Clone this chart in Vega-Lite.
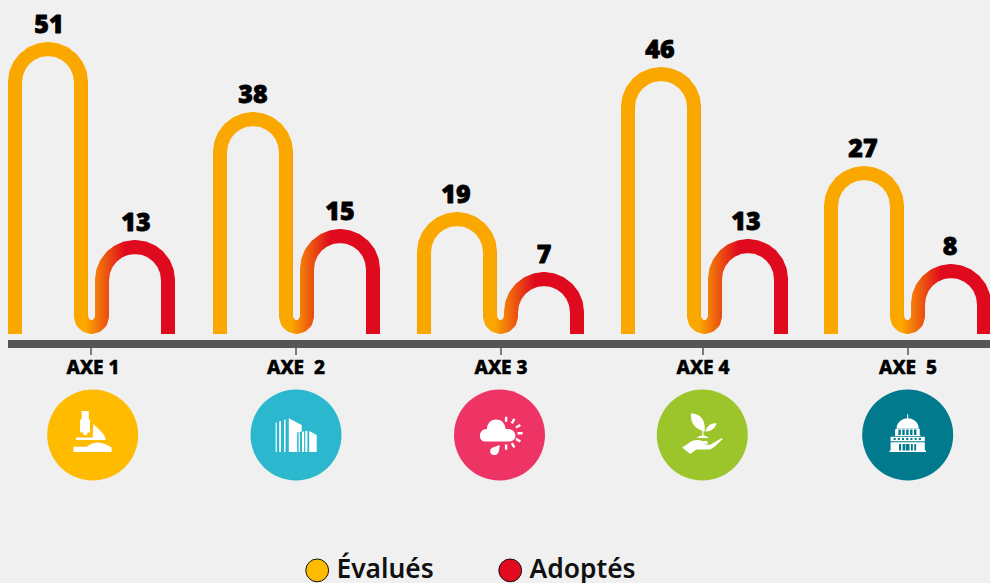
{
"$schema":"https://vega.github.io/schema/vega-lite/v6.json",
"autosize":{"type":"none"},
"width":990,"height":583,"padding":0,
"background":"#f0f0f0",
"config":{"view":{"stroke":null},"style":{"cell":{"stroke":null}}},
"datasets":{
"values":[
{"axe":"AXE 1","serie":"Évalués","x":49,"value":51,"top":51.15},
{"axe":"AXE 1","serie":"Adoptés","x":136,"value":13,"top":13.08},
{"axe":"AXE 2","serie":"Évalués","x":253,"value":38,"top":37.69},
{"axe":"AXE 2","serie":"Adoptés","x":340,"value":15,"top":15.19},
{"axe":"AXE 3","serie":"Évalués","x":456,"value":19,"top":18.46},
{"axe":"AXE 3","serie":"Adoptés","x":544,"value":7,"top":6.92},
{"axe":"AXE 4","serie":"Évalués","x":660,"value":46,"top":46.35},
{"axe":"AXE 4","serie":"Adoptés","x":746,"value":13,"top":13.27},
{"axe":"AXE 5","serie":"Évalués","x":863,"value":27,"top":27.31},
{"axe":"AXE 5","serie":"Adoptés","x":950,"value":8,"top":8.46}
],
"axes":[
{"axe":"AXE 1","label":"AXE 1","tick":91,"icon":92.7,"tx":93,"tickTop":-6.35,"tickEnd":-7.69,"labelY":-10.2,"iconY":-23.08},
{"axe":"AXE 2","label":"AXE\u00a0 2","tick":296,"icon":296,"tx":296,"tickTop":-6.35,"tickEnd":-7.69,"labelY":-10.2,"iconY":-23.08},
{"axe":"AXE 3","label":"AXE 3","tick":501,"icon":499.5,"tx":501,"tickTop":-6.35,"tickEnd":-7.69,"labelY":-10.2,"iconY":-23.08},
{"axe":"AXE 4","label":"AXE 4","tick":703,"icon":702.3,"tx":703,"tickTop":-6.35,"tickEnd":-7.69,"labelY":-10.2,"iconY":-23.08},
{"axe":"AXE 5","label":"AXE\u00a0 5","tick":908,"icon":907.7,"tx":908,"tickTop":-6.35,"tickEnd":-7.69,"labelY":-10.2,"iconY":-23.08}
],
"baseline":[{"from":8,"to":990,"y":-5.58}],
"arches":[
{"a":1,"i":0,"x":15,"y":-3.65},{"a":1,"i":1,"x":15,"y":44.8},{"a":1,"i":2,"x":16.12,"y":46.45},{"a":1,"i":3,"x":19.42,"y":47.98},{"a":1,"i":4,"x":24.67,"y":49.29},{"a":1,"i":5,"x":31.5,"y":50.3},{"a":1,"i":6,"x":39.46,"y":50.94},{"a":1,"i":7,"x":48,"y":51.15},{"a":1,"i":8,"x":56.54,"y":50.94},{"a":1,"i":9,"x":64.5,"y":50.3},{"a":1,"i":10,"x":71.33,"y":49.29},{"a":1,"i":11,"x":76.58,"y":47.98},{"a":1,"i":12,"x":79.88,"y":46.45},{"a":1,"i":13,"x":81,"y":44.8},
{"a":1,"i":14,"x":81,"y":-0.29},{"a":1,"i":15,"x":82.41,"y":-1.3},{"a":1,"i":16,"x":86.25,"y":-2.04},{"a":1,"i":17,"x":91.5,"y":-2.31},{"a":1,"i":18,"x":96.75,"y":-2.04},{"a":1,"i":19,"x":100.59,"y":-1.3},{"a":1,"i":20,"x":102,"y":-0.29},
{"a":1,"i":21,"x":102,"y":6.73},{"a":1,"i":22,"x":103.12,"y":8.38},{"a":1,"i":23,"x":106.42,"y":9.91},{"a":1,"i":24,"x":111.67,"y":11.22},{"a":1,"i":25,"x":118.5,"y":12.23},{"a":1,"i":26,"x":126.46,"y":12.87},{"a":1,"i":27,"x":135,"y":13.08},{"a":1,"i":28,"x":143.54,"y":12.87},{"a":1,"i":29,"x":151.5,"y":12.23},{"a":1,"i":30,"x":158.33,"y":11.22},{"a":1,"i":31,"x":163.58,"y":9.91},{"a":1,"i":32,"x":166.88,"y":8.38},{"a":1,"i":33,"x":168,"y":6.73},{"a":1,"i":34,"x":168,"y":-3.65},

{"a":2,"i":0,"x":220,"y":-3.65},{"a":2,"i":1,"x":220,"y":31.34},{"a":2,"i":2,"x":221.12,"y":32.99},{"a":2,"i":3,"x":224.42,"y":34.52},{"a":2,"i":4,"x":229.67,"y":35.83},{"a":2,"i":5,"x":236.5,"y":36.84},{"a":2,"i":6,"x":244.46,"y":37.48},{"a":2,"i":7,"x":253,"y":37.69},{"a":2,"i":8,"x":261.54,"y":37.48},{"a":2,"i":9,"x":269.5,"y":36.84},{"a":2,"i":10,"x":276.33,"y":35.83},{"a":2,"i":11,"x":281.58,"y":34.52},{"a":2,"i":12,"x":284.88,"y":32.99},{"a":2,"i":13,"x":286,"y":31.34},
{"a":2,"i":14,"x":286,"y":-0.29},{"a":2,"i":15,"x":287.41,"y":-1.3},{"a":2,"i":16,"x":291.25,"y":-2.04},{"a":2,"i":17,"x":296.5,"y":-2.31},{"a":2,"i":18,"x":301.75,"y":-2.04},{"a":2,"i":19,"x":305.59,"y":-1.3},{"a":2,"i":20,"x":307,"y":-0.29},
{"a":2,"i":21,"x":307,"y":8.84},{"a":2,"i":22,"x":308.12,"y":10.49},{"a":2,"i":23,"x":311.42,"y":12.02},{"a":2,"i":24,"x":316.67,"y":13.33},{"a":2,"i":25,"x":323.5,"y":14.34},{"a":2,"i":26,"x":331.46,"y":14.98},{"a":2,"i":27,"x":340,"y":15.19},{"a":2,"i":28,"x":348.54,"y":14.98},{"a":2,"i":29,"x":356.5,"y":14.34},{"a":2,"i":30,"x":363.33,"y":13.33},{"a":2,"i":31,"x":368.58,"y":12.02},{"a":2,"i":32,"x":371.88,"y":10.49},{"a":2,"i":33,"x":373,"y":8.84},{"a":2,"i":34,"x":373,"y":-3.65},

{"a":3,"i":0,"x":424,"y":-3.65},{"a":3,"i":1,"x":424,"y":12.11},{"a":3,"i":2,"x":425.12,"y":13.76},{"a":3,"i":3,"x":428.42,"y":15.29},{"a":3,"i":4,"x":433.67,"y":16.6},{"a":3,"i":5,"x":440.5,"y":17.61},{"a":3,"i":6,"x":448.46,"y":18.25},{"a":3,"i":7,"x":457,"y":18.46},{"a":3,"i":8,"x":465.54,"y":18.25},{"a":3,"i":9,"x":473.5,"y":17.61},{"a":3,"i":10,"x":480.33,"y":16.6},{"a":3,"i":11,"x":485.58,"y":15.29},{"a":3,"i":12,"x":488.88,"y":13.76},{"a":3,"i":13,"x":490,"y":12.11},
{"a":3,"i":14,"x":490,"y":-0.29},{"a":3,"i":15,"x":491.41,"y":-1.3},{"a":3,"i":16,"x":495.25,"y":-2.04},{"a":3,"i":17,"x":500.5,"y":-2.31},{"a":3,"i":18,"x":505.75,"y":-2.04},{"a":3,"i":19,"x":509.59,"y":-1.3},{"a":3,"i":20,"x":511,"y":-0.29},
{"a":3,"i":21,"x":511,"y":0.57},{"a":3,"i":22,"x":512.12,"y":2.22},{"a":3,"i":23,"x":515.42,"y":3.75},{"a":3,"i":24,"x":520.67,"y":5.06},{"a":3,"i":25,"x":527.5,"y":6.07},{"a":3,"i":26,"x":535.46,"y":6.71},{"a":3,"i":27,"x":544,"y":6.92},{"a":3,"i":28,"x":552.54,"y":6.71},{"a":3,"i":29,"x":560.5,"y":6.07},{"a":3,"i":30,"x":567.33,"y":5.06},{"a":3,"i":31,"x":572.58,"y":3.75},{"a":3,"i":32,"x":575.88,"y":2.22},{"a":3,"i":33,"x":577,"y":0.57},{"a":3,"i":34,"x":577,"y":-3.65},

{"a":4,"i":0,"x":628,"y":-3.65},{"a":4,"i":1,"x":628,"y":40},{"a":4,"i":2,"x":629.12,"y":41.65},{"a":4,"i":3,"x":632.42,"y":43.18},{"a":4,"i":4,"x":637.67,"y":44.49},{"a":4,"i":5,"x":644.5,"y":45.5},{"a":4,"i":6,"x":652.46,"y":46.14},{"a":4,"i":7,"x":661,"y":46.35},{"a":4,"i":8,"x":669.54,"y":46.14},{"a":4,"i":9,"x":677.5,"y":45.5},{"a":4,"i":10,"x":684.33,"y":44.49},{"a":4,"i":11,"x":689.58,"y":43.18},{"a":4,"i":12,"x":692.88,"y":41.65},{"a":4,"i":13,"x":694,"y":40},
{"a":4,"i":14,"x":694,"y":-0.29},{"a":4,"i":15,"x":695.41,"y":-1.3},{"a":4,"i":16,"x":699.25,"y":-2.04},{"a":4,"i":17,"x":704.5,"y":-2.31},{"a":4,"i":18,"x":709.75,"y":-2.04},{"a":4,"i":19,"x":713.59,"y":-1.3},{"a":4,"i":20,"x":715,"y":-0.29},
{"a":4,"i":21,"x":715,"y":6.92},{"a":4,"i":22,"x":716.12,"y":8.57},{"a":4,"i":23,"x":719.42,"y":10.1},{"a":4,"i":24,"x":724.67,"y":11.41},{"a":4,"i":25,"x":731.5,"y":12.42},{"a":4,"i":26,"x":739.46,"y":13.06},{"a":4,"i":27,"x":748,"y":13.27},{"a":4,"i":28,"x":756.54,"y":13.06},{"a":4,"i":29,"x":764.5,"y":12.42},{"a":4,"i":30,"x":771.33,"y":11.41},{"a":4,"i":31,"x":776.58,"y":10.1},{"a":4,"i":32,"x":779.88,"y":8.57},{"a":4,"i":33,"x":781,"y":6.92},{"a":4,"i":34,"x":781,"y":-3.65},

{"a":5,"i":0,"x":831,"y":-3.65},{"a":5,"i":1,"x":831,"y":20.96},{"a":5,"i":2,"x":832.12,"y":22.61},{"a":5,"i":3,"x":835.42,"y":24.14},{"a":5,"i":4,"x":840.67,"y":25.45},{"a":5,"i":5,"x":847.5,"y":26.46},{"a":5,"i":6,"x":855.46,"y":27.1},{"a":5,"i":7,"x":864,"y":27.31},{"a":5,"i":8,"x":872.54,"y":27.1},{"a":5,"i":9,"x":880.5,"y":26.46},{"a":5,"i":10,"x":887.33,"y":25.45},{"a":5,"i":11,"x":892.58,"y":24.14},{"a":5,"i":12,"x":895.88,"y":22.61},{"a":5,"i":13,"x":897,"y":20.96},
{"a":5,"i":14,"x":897,"y":-0.29},{"a":5,"i":15,"x":898.41,"y":-1.3},{"a":5,"i":16,"x":902.25,"y":-2.04},{"a":5,"i":17,"x":907.5,"y":-2.31},{"a":5,"i":18,"x":912.75,"y":-2.04},{"a":5,"i":19,"x":916.59,"y":-1.3},{"a":5,"i":20,"x":918,"y":-0.29},
{"a":5,"i":21,"x":918,"y":2.11},{"a":5,"i":22,"x":919.12,"y":3.76},{"a":5,"i":23,"x":922.42,"y":5.29},{"a":5,"i":24,"x":927.67,"y":6.6},{"a":5,"i":25,"x":934.5,"y":7.61},{"a":5,"i":26,"x":942.46,"y":8.25},{"a":5,"i":27,"x":951,"y":8.46},{"a":5,"i":28,"x":959.54,"y":8.25},{"a":5,"i":29,"x":967.5,"y":7.61},{"a":5,"i":30,"x":974.33,"y":6.6},{"a":5,"i":31,"x":979.58,"y":5.29},{"a":5,"i":32,"x":982.88,"y":3.76},{"a":5,"i":33,"x":984,"y":2.11},{"a":5,"i":34,"x":984,"y":-3.65}
]
},
"layer":[
{"data":{"name":"values"},
 "mark":{"type":"point","filled":true,"size":100,"opacity":1},
 "encoding":{
  "x":{"field":"x","type":"quantitative","scale":{"domain":[0,990],"nice":false,"zero":false},"axis":null},
  "y":{"field":"top","type":"quantitative","scale":{"domain":[-51.54,60.58],"nice":false,"zero":false},"axis":null},
  "color":{"field":"serie","type":"nominal","scale":{"domain":["Évalués","Adoptés"],"range":["#FFBB00","#E20A1F"]},
   "legend":{"title":null,"orient":"none","legendX":304,"legendY":557,"direction":"horizontal","symbolType":"circle","symbolSize":520,"symbolStrokeColor":"#111111","symbolStrokeWidth":1,"symbolOpacity":1,"labelFont":"Noto Sans","labelFontSize":26.4,"labelFontWeight":600,"labelColor":"#111111","columnPadding":62,"labelOffset":6,"padding":0,"rowPadding":0}}
 }},
{"data":{"name":"arches"},
 "mark":{"type":"line","strokeWidth":14,"strokeCap":"butt","strokeJoin":"round",
  "stroke":{"gradient":"linear","x1":0,"y1":0,"x2":1,"y2":0,"stops":[{"offset":0,"color":"#FAA800"},{"offset":0.46,"color":"#FAA800"},{"offset":0.72,"color":"#E00A1E"},{"offset":1,"color":"#E00A1E"}]}},
 "encoding":{
  "x":{"field":"x","type":"quantitative"},
  "y":{"field":"y","type":"quantitative"},
  "detail":{"field":"a","type":"nominal"},
  "order":{"field":"i","type":"quantitative"}
 }},
{"data":{"name":"values"},
 "mark":{"type":"text","font":"Noto Sans","fontWeight":900,"fontSize":25,"color":"#000000","stroke":"#000000","strokeWidth":0.8,"strokeJoin":"round","baseline":"middle","dy":-24},
 "encoding":{
  "x":{"field":"x","type":"quantitative"},
  "y":{"field":"top","type":"quantitative"},
  "text":{"field":"value","type":"quantitative"}
 }},
{"data":{"name":"baseline"},
 "mark":{"type":"rule","strokeWidth":8,"color":"#555555"},
 "encoding":{
  "x":{"field":"from","type":"quantitative"},
  "x2":{"field":"to"},
  "y":{"field":"y","type":"quantitative"}
 }},
{"data":{"name":"axes"},
 "mark":{"type":"rule","strokeWidth":1.5,"color":"#555555"},
 "encoding":{
  "x":{"field":"tick","type":"quantitative"},
  "y":{"field":"tickTop","type":"quantitative"},
  "y2":{"field":"tickEnd"}
 }},
{"data":{"name":"axes"},
 "mark":{"type":"text","font":"Noto Sans","fontWeight":800,"fontSize":19,"color":"#000000","stroke":"#000000","strokeWidth":0.5,"strokeJoin":"round","baseline":"middle"},
 "encoding":{
  "x":{"field":"tx","type":"quantitative"},
  "y":{"field":"labelY","type":"quantitative"},
  "text":{"field":"label","type":"nominal"}
 }},
{"data":{"name":"axes"},
 "mark":{"type":"point","filled":true,"size":8281,"opacity":1},
 "encoding":{
  "x":{"field":"icon","type":"quantitative"},
  "y":{"field":"iconY","type":"quantitative"},
  "fill":{"field":"axe","type":"nominal","scale":{"domain":["AXE 1","AXE 2","AXE 3","AXE 4","AXE 5"],"range":["#FFBB00","#2BB8CF","#EE3465","#9CC52B","#007A8C"]},"legend":null}
 }},
{"data":{"name":"axes"},
 "mark":{"type":"point","filled":true,"size":3600,"opacity":1,"fill":"#ffffff"},
 "encoding":{
  "x":{"field":"icon","type":"quantitative"},
  "y":{"field":"iconY","type":"quantitative"},
  "shape":{"field":"axe","type":"nominal","legend":null,"scale":{"domain":["AXE 1","AXE 2","AXE 3","AXE 4","AXE 5"],"range":[
   "M-0.37 -0.8H-0.13V-0.52H-0.09V-0.08H-0.18V0H-0.31V-0.08H-0.42V-0.52H-0.37Z M0.02 -0.37L0.2 -0.2L0.38 0L0.44 0.17H-0.56V0.08H0L0.02 -0.37Z M-0.64 0.39H-0.2Q0.05 0.2 0.3 0.27Q0.5 0.33 0.63 0.42V0.57H-0.64Z",
   "M-0.68 -0.41L-0.64 -0.42V0.57H-0.68Z M-0.56 -0.45L-0.5 -0.47V0.57H-0.56Z M-0.4 -0.5L-0.35 -0.52V0.57H-0.4Z M-0.24 -0.56L0.19 -0.33V-0.12L0.04 -0.08V0.57H-0.24Z M0.09 -0.08L0.13 -0.09V0.57H0.09Z M0.2 -0.11L0.27 -0.12V0.57H0.2Z M0.31 -0.13L0.38 -0.14V0.57H0.31Z M0.44 -0.13L0.69 0V0.57H0.44Z",
   "M-0.48 0.22C-0.72 0.22 -0.72 -0.2 -0.42 -0.2C-0.4 -0.62 0.18 -0.62 0.2 -0.2C0.6 -0.25 0.65 0.22 0.3 0.22Z M0.18 -0.61H0.26V-0.44H0.18Z M0.18 0.32H0.26V0.49H0.18Z M0.6 -0.1H0.77V-0.02H0.6Z M0.445 -0.369L0.53 -0.516L0.46 -0.556L0.375 -0.409Z M0.375 0.289L0.46 0.436L0.53 0.396L0.445 0.249Z M0.569 -0.215L0.716 -0.3L0.676 -0.37L0.529 -0.285Z M0.529 0.165L0.676 0.25L0.716 0.18L0.569 0.095Z M0 0.33C0 0.5 -0.02 0.67 -0.17 0.67C-0.36 0.67 -0.36 0.42 -0.17 0.4Z",
   "M-0.38 -0.72C-0.1 -0.72 0.12 -0.55 0.08 -0.12C-0.2 -0.2 -0.4 -0.35 -0.38 -0.72Z M0.48 -0.39C0.3 -0.42 0.15 -0.3 0.1 -0.12C0.25 -0.1 0.42 -0.2 0.48 -0.39Z M0 -0.2H0.04V0.05H0Z M-0.2 0.1Q0.02 -0.08 0.22 0.1Z M-0.67 0.42L-0.47 0.28C-0.3 0.15 -0.15 0.15 0 0.2H0.15L0.2 0.28L0.05 0.3L0.25 0.33L0.65 0.1L0.68 0.13C0.5 0.3 0.4 0.42 0.25 0.48H-0.2L-0.4 0.63Z",
   "M-0.015 -0.69H0.015L0.02 -0.55H-0.02Z M-0.37 -0.22C-0.37 -0.45 -0.15 -0.56 0 -0.56C0.15 -0.56 0.37 -0.45 0.37 -0.22Z M-0.4 -0.21H0.4V-0.18H-0.4Z M-0.42 -0.18H-0.31V0H-0.42Z M-0.23 -0.18H-0.18V0H-0.23Z M-0.1 -0.18H-0.05V0H-0.1Z M0.03 -0.18H0.08V0H0.03Z M0.16 -0.18H0.21V0H0.16Z M0.29 -0.18H0.4V0H0.29Z M-0.42 0H0.42V0.03H-0.42Z M-0.57 0.06H0.57V0.1H-0.57Z M-0.57 0.1H-0.47V0.17H-0.57Z M-0.4 0.1H-0.33V0.17H-0.4Z M-0.26 0.1H-0.19V0.17H-0.26Z M-0.12 0.1H-0.05V0.17H-0.12Z M0.02 0.1H0.09V0.17H0.02Z M0.16 0.1H0.23V0.17H0.16Z M0.3 0.1H0.37V0.17H0.3Z M0.44 0.1H0.57V0.17H0.44Z M-0.57 0.17H0.57V0.21H-0.57Z M-0.57 0.24H0.57V0.3H-0.57Z M-0.57 0.3H-0.29V0.52H-0.57Z M-0.22 0.3H-0.17V0.52H-0.22Z M-0.09 0.3H-0.07V0.52H-0.09Z M0.06 0.3H0.11V0.52H0.06Z M0.17 0.3H0.22V0.52H0.17Z M0.28 0.3H0.57V0.52H0.28Z M-0.61 0.52H0.61V0.57H-0.61Z"
  ]}}
 }}
]
}
